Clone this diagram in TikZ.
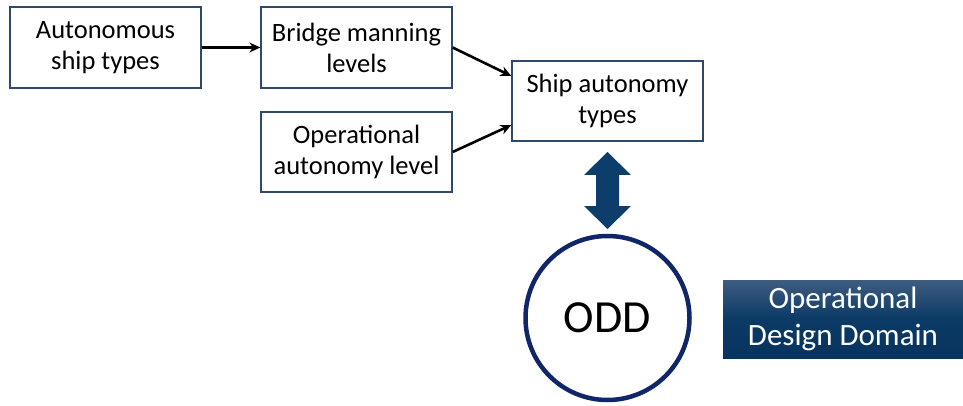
\documentclass[tikz,border=0pt]{standalone}
\usepackage{fontspec}
\setmainfont{Carlito}
\usetikzlibrary{arrows.meta}
\definecolor{boxline}{HTML}{2E4A6A}
\definecolor{arrowblue}{HTML}{0C3D6B}
\definecolor{ringblue}{HTML}{112668}
\definecolor{bandtop}{HTML}{3E5C80}
\definecolor{bandmid}{HTML}{0B3A66}
\definecolor{bandbot}{HTML}{07345F}
\tikzset{
  stagebox/.style={draw=boxline, line width=1.3pt, fill=white, minimum width=191pt,
    minimum height=81pt, align=center, inner sep=0pt, font=\fontsize{26.5}{31}\selectfont},
  link/.style={draw=black, line width=2.6pt, -{Stealth[length=11pt,width=10pt]}},
}
\begin{document}
\begin{tikzpicture}[x=1pt, y=-1pt]
\useasboundingbox (0,0) rectangle (963,406);
% process boxes
\node[stagebox] (types) at (105.5,47.5) {Autonomous\\ship types};
\node[stagebox] (bridge) at (356.5,47.5) {Bridge manning\\levels};
\node[stagebox, minimum height=80pt] (oplevel) at (356.5,152) {Operational\\autonomy level};
\node[stagebox, minimum height=80pt] (shipaut) at (607.5,101) {Ship autonomy\\types};
% connectors
\coordinate (inA) at ([yshift=25pt]shipaut.west);
\coordinate (inB) at ([yshift=-24pt]shipaut.west);
\draw[link] (types.east) -- (bridge.west);
\draw[link] (bridge.east) -- (inA);
\draw[link] (oplevel.east) -- (inB);
% ODD ring
\node[circle, draw=ringblue, line width=4.5pt, minimum size=164pt, inner sep=0pt,
  font=\fontsize{46}{56}\selectfont] (odd) at (607.5,318) {ODD};
% double-headed block arrow between ship autonomy types and ODD
\fill[arrowblue] (607.5,152) -- (631,175) -- (619,175) -- (619,206) -- (631,206)
  -- (607.5,229) -- (584,206) -- (596,206) -- (596,175) -- (584,175) -- cycle;
% caption band
\path[top color=bandtop, bottom color=bandbot, middle color=bandmid, shading angle=0]
  (723,280) rectangle (963,358);
\node[text=white, align=center, font=\fontsize{31}{37}\selectfont] (band) at (843,319)
  {Operational\\Design Domain};
\end{tikzpicture}
\end{document}
